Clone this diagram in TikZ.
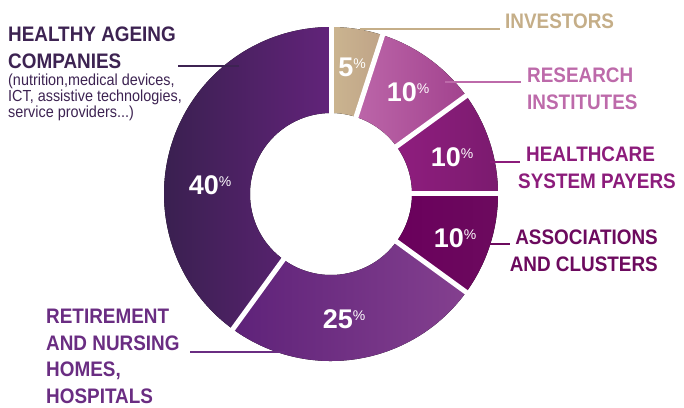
\documentclass[tikz,border=0pt]{standalone}
\usepackage{fontspec}
\usepackage{tikz}
\usepackage{xcolor}
\usetikzlibrary{
    calc,
    positioning
}
\newfontfamily\condfont{Liberation Sans}[FakeStretch=0.9]
\newfontfamily\pctfont{Liberation Sans}

\definecolor{hacol}{HTML}{3D2352}
\definecolor{invcol}{HTML}{C5AE88}
\definecolor{rescol}{HTML}{BD6AAA}
\definecolor{hccol}{HTML}{8C1C7B}
\definecolor{ascol}{HTML}{6C0A5E}
\definecolor{retcol}{HTML}{6A2D82}
\definecolor{invl}{HTML}{CBB590}
\definecolor{invr}{HTML}{BFA387}
\definecolor{resl}{HTML}{BC66A9}
\definecolor{resr}{HTML}{A2428E}
\definecolor{hcl}{HTML}{8F1D7E}
\definecolor{hcr}{HTML}{7B1B6F}
\definecolor{asl}{HTML}{6A005C}
\definecolor{asr}{HTML}{6C0A5E}
\definecolor{retl}{HTML}{5E2279}
\definecolor{retr}{HTML}{84408F}
\definecolor{hal}{HTML}{3A2050}
\definecolor{har}{HTML}{62237A}

\begin{document}
\begin{tikzpicture}[x=1pt, y=1pt,
    gap/.style={draw=white, line width=5pt},
    lead/.style={line width=1.5pt},
    pct/.style={anchor=base, inner sep=0pt, text=white, font=\pctfont\bfseries\fontsize{27}{27}\selectfont},
    lbl/.style={inner sep=0pt, font=\condfont\bfseries\fontsize{21}{27}\selectfont},
    desc/.style={inner sep=0pt, align=left, font=\condfont\fontsize{16}{14.5}\selectfont}
]
    \useasboundingbox (0, 0) rectangle (684, 407);
    \coordinate (c) at (331, 213);
    % slices
    \fill[left color=invl, right color=invr] ([shift={(72:167)}]c) arc[start angle=72, end angle=90, radius=167] -- ([shift={(90:81)}]c) arc[start angle=90, end angle=72, radius=81] -- cycle;
    \fill[left color=resl, right color=resr] ([shift={(36:167)}]c) arc[start angle=36, end angle=72, radius=167] -- ([shift={(72:81)}]c) arc[start angle=72, end angle=36, radius=81] -- cycle;
    \fill[left color=hcl, right color=hcr] ([shift={(0:167)}]c) arc[start angle=0, end angle=36, radius=167] -- ([shift={(36:81)}]c) arc[start angle=36, end angle=0, radius=81] -- cycle;
    \fill[left color=asl, right color=asr] ([shift={(-36:167)}]c) arc[start angle=-36, end angle=0, radius=167] -- ([shift={(0:81)}]c) arc[start angle=0, end angle=-36, radius=81] -- cycle;
    \fill[left color=retl, right color=retr] ([shift={(-126:167)}]c) arc[start angle=-126, end angle=-36, radius=167] -- ([shift={(-36:81)}]c) arc[start angle=-36, end angle=-126, radius=81] -- cycle;
    \fill[left color=hal, right color=har] ([shift={(90:167)}]c) arc[start angle=90, end angle=234, radius=167] -- ([shift={(234:81)}]c) arc[start angle=234, end angle=90, radius=81] -- cycle;
    \foreach \a in {90, 72, 36, 0, -36, -126}
        \draw[gap] ([shift={(\a:75)}]c) -- ([shift={(\a:172)}]c);

    % labels
    \node[lbl, text=hacol, anchor=north west, align=left] (ha) at (8, 380) {HEALTHY AGEING\\COMPANIES};
    \node[desc, text=hacol, anchor=north west] (hadesc) at (8, 333.5) {(nutrition,medical devices,\\ICT, assistive technologies,\\service providers...)};
    \node[lbl, text=invcol, anchor=north west] (inv) at (505, 393.5) {INVESTORS};
    \node[lbl, text=rescol, anchor=north west, align=left] (res) at (527, 339) {RESEARCH\\INSTITUTES};
    \node[lbl, text=hccol, anchor=north west, align=left] (hc) at (518, 260) {\hspace{8pt}HEALTHCARE\\SYSTEM PAYERS};
    \node[lbl, text=ascol, anchor=north east, align=right] (as) at (658, 177) {ASSOCIATIONS\\AND CLUSTERS};
    \node[lbl, text=retcol, anchor=north west, align=left, font=\condfont\bfseries\fontsize{21}{26.5}\selectfont] (ret) at (46, 98) {RETIREMENT\\AND NURSING\\HOMES,\\HOSPITALS};

    \coordinate (hapt) at (239, 341);
    \coordinate (invpt) at (360, 378);
    \coordinate (respt) at (445, 325);
    \coordinate (hcpt) at (490, 245);
    \coordinate (aspt) at (484, 163);
    \coordinate (retpt) at (285, 55);
    \draw[lead, hacol, shorten >=2pt] (hapt) -- (hapt -| ha.east);
    \draw[lead, invcol, shorten >=5pt] (invpt) -- (invpt -| inv.west);
    \draw[lead, rescol, shorten >=6pt] (respt) -- (respt -| res.west);
    \draw[lead, hccol] (hcpt) -- ([xshift=2pt]hcpt -| hc.west);
    \draw[lead, ascol] (aspt) -- (aspt -| as.west);
    \draw[lead, retcol, shorten >=10pt] (retpt) -- (retpt -| ret.east);

    % percentages
    \node[pct] (p5) at (352, 330) {5\raisebox{8pt}{\pctfont\mdseries\fontsize{14}{14}\selectfont\%}};
    \node[pct] (p10r) at (408, 305) {10\raisebox{8pt}{\pctfont\mdseries\fontsize{14}{14}\selectfont\%}};
    \node[pct] (p10h) at (452, 240) {10\raisebox{8pt}{\pctfont\mdseries\fontsize{14}{14}\selectfont\%}};
    \node[pct] (p10a) at (455, 160) {10\raisebox{8pt}{\pctfont\mdseries\fontsize{14}{14}\selectfont\%}};
    \node[pct] (p25) at (344, 79) {25\raisebox{8pt}{\pctfont\mdseries\fontsize{14}{14}\selectfont\%}};
    \node[pct] (p40) at (210, 212) {40\raisebox{8pt}{\pctfont\mdseries\fontsize{14}{14}\selectfont\%}};
\end{tikzpicture}
\end{document}
